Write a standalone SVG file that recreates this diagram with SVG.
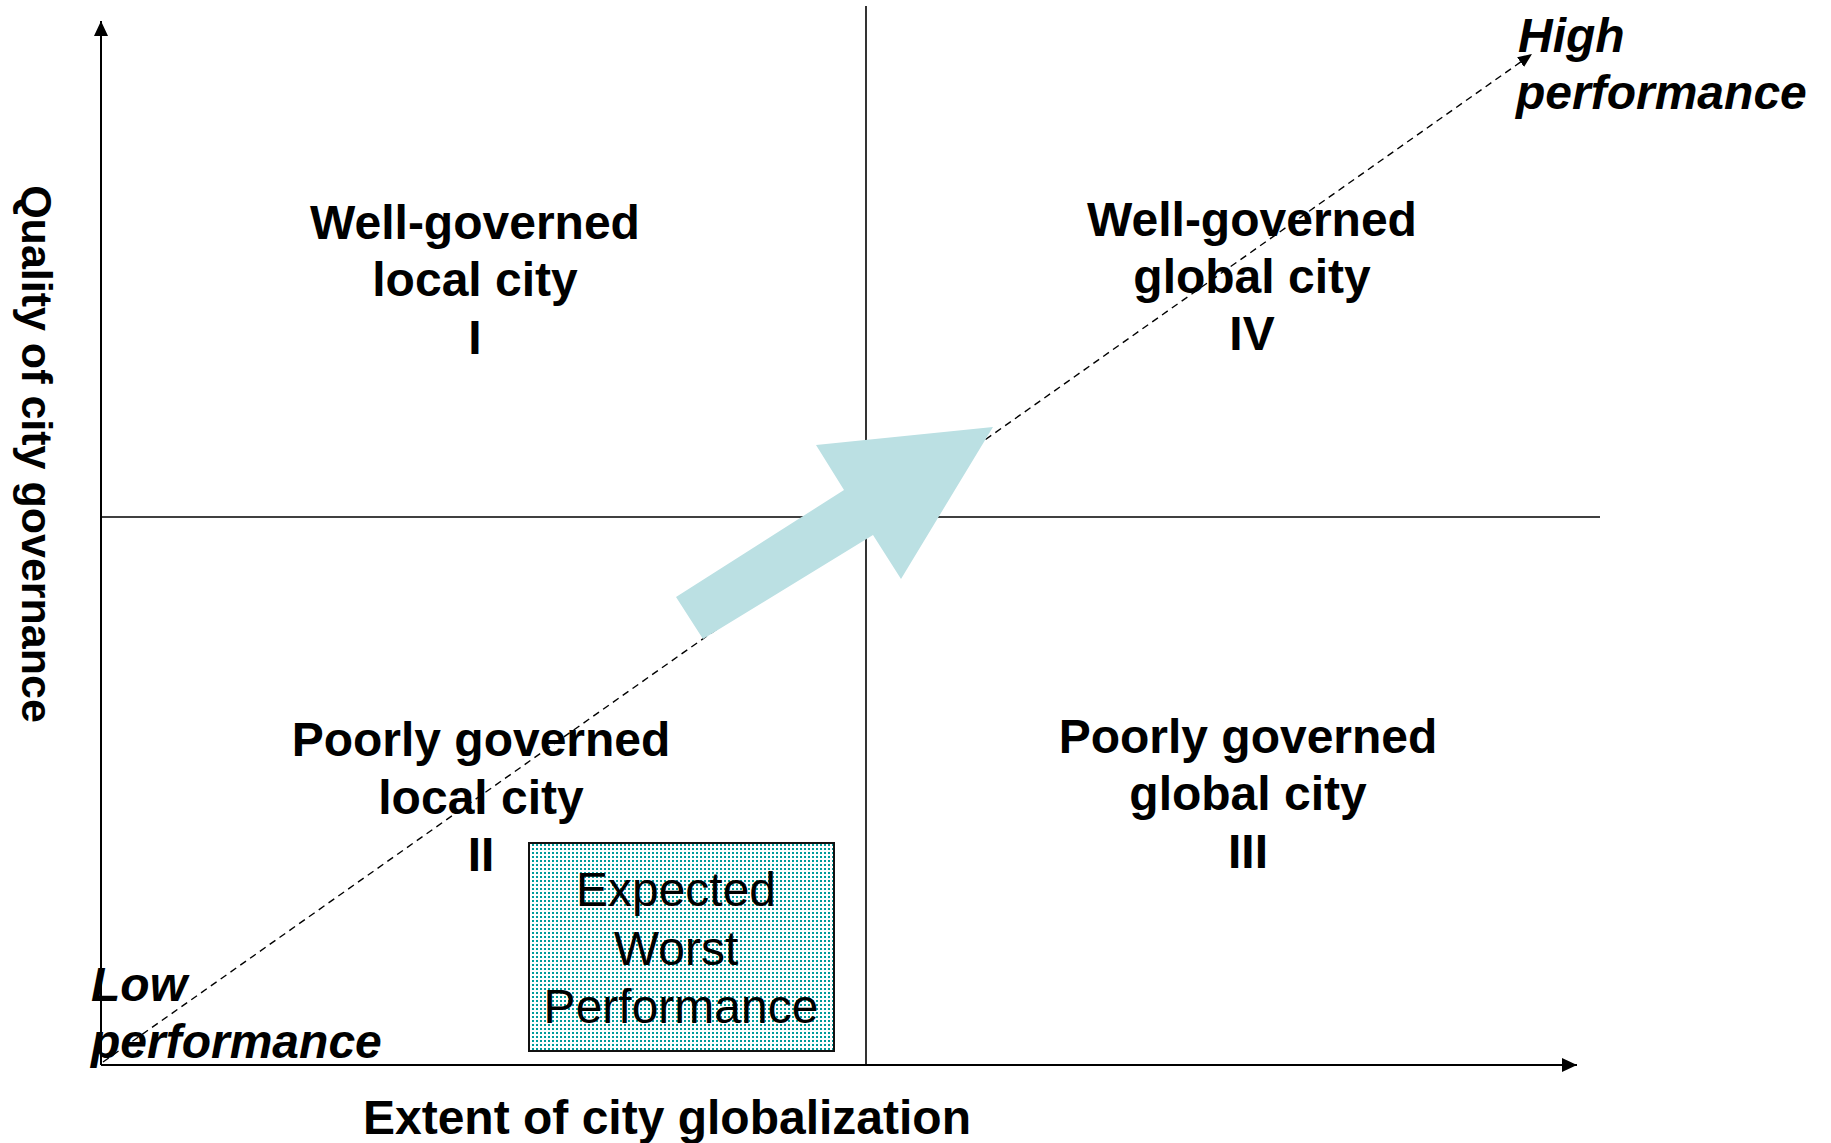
<svg xmlns="http://www.w3.org/2000/svg" width="1831" height="1143" viewBox="0 0 1831 1143">
<style>
  text { font-family: "Liberation Sans", Arial, sans-serif; fill: #000; }
  .q { font-size: 48px; font-weight: bold; text-anchor: middle; }
  .perf { font-size: 48px; font-weight: bold; font-style: italic; }
  .box { font-size: 48px; text-anchor: middle; }
  .axis { stroke: #000; stroke-width: 2; fill: none; }
  .mid { stroke: #000; stroke-width: 1.6; fill: none; }
  .dash { stroke: #000; stroke-width: 1.4; stroke-dasharray: 7 5; fill: none; }
</style>
<defs>
  <marker id="axisHead" markerUnits="userSpaceOnUse" markerWidth="16" markerHeight="14" refX="15" refY="7" orient="auto">
    <path d="M0,0 L15,7 L0,14 z" fill="#000"/>
  </marker>
  <marker id="dashHead" markerUnits="userSpaceOnUse" markerWidth="15" markerHeight="12" refX="14" refY="6" orient="auto">
    <path d="M0,0 L14,6 L0,12 z" fill="#000"/>
  </marker>
  <pattern id="dots" patternUnits="userSpaceOnUse" width="4" height="4">
    <rect x="0" y="0" width="2" height="2" fill="#009a9a"/>
  </pattern>
</defs>
<rect width="1831" height="1143" fill="#fff"/>

<g id="connectors">
  <line id="y-axis" class="axis" x1="101" y1="1065" x2="101" y2="21" marker-end="url(#axisHead)"/>
  <line id="x-axis" class="axis" x1="101" y1="1065" x2="1577" y2="1065" marker-end="url(#axisHead)"/>
  <line id="mid-vertical" class="mid" x1="866" y1="6" x2="866" y2="1065"/>
  <line id="mid-horizontal" class="mid" x1="101" y1="517" x2="1600" y2="517"/>
  <line id="performance-line" class="dash" x1="103" y1="1062" x2="1532" y2="54" marker-end="url(#dashHead)"/>
</g>

<g id="quadrant-I">
  <text class="q" x="475" y="239">Well-governed</text>
  <text class="q" x="475" y="296">local city</text>
  <text class="q" x="475" y="354">I</text>
</g>
<g id="quadrant-IV">
  <text class="q" x="1252" y="236">Well-governed</text>
  <text class="q" x="1252" y="293">global city</text>
  <text class="q" x="1252" y="350">IV</text>
</g>
<g id="quadrant-II">
  <text class="q" x="481" y="756">Poorly governed</text>
  <text class="q" x="481" y="814">local city</text>
  <text class="q" x="481" y="871">II</text>
</g>
<g id="quadrant-III">
  <text class="q" x="1248" y="753">Poorly governed</text>
  <text class="q" x="1248" y="810">global city</text>
  <text class="q" x="1248" y="868">III</text>
</g>

<g id="expected-worst">
  <rect x="529" y="843" width="305" height="208" fill="#fff"/>
  <rect x="529" y="843" width="305" height="208" fill="url(#dots)" stroke="#111" stroke-width="2"/>
  <text class="box" x="676" y="906">Expected</text>
  <text class="box" x="676" y="965">Worst</text>
  <text class="box" x="681" y="1023">Performance</text>
</g>

<g id="big-arrow">
  <polygon points="676,597 844,490 816,445 993,427 901,579 873,535 703,639" fill="#bbe0e3"/>
</g>

<g id="high-performance">
  <text class="perf" x="1518" y="52">High</text>
  <text class="perf" x="1516" y="109">performance</text>
</g>
<g id="low-performance">
  <text class="perf" x="91" y="1001">Low</text>
  <text class="perf" x="91" y="1058">performance</text>
</g>

<g id="x-label">
  <text class="q" x="667" y="1134">Extent of city globalization</text>
</g>
<g id="y-label">
  <text class="q" style="font-size:43px" transform="translate(22,454) rotate(90)">Quality of city governance</text>
</g>
</svg>
